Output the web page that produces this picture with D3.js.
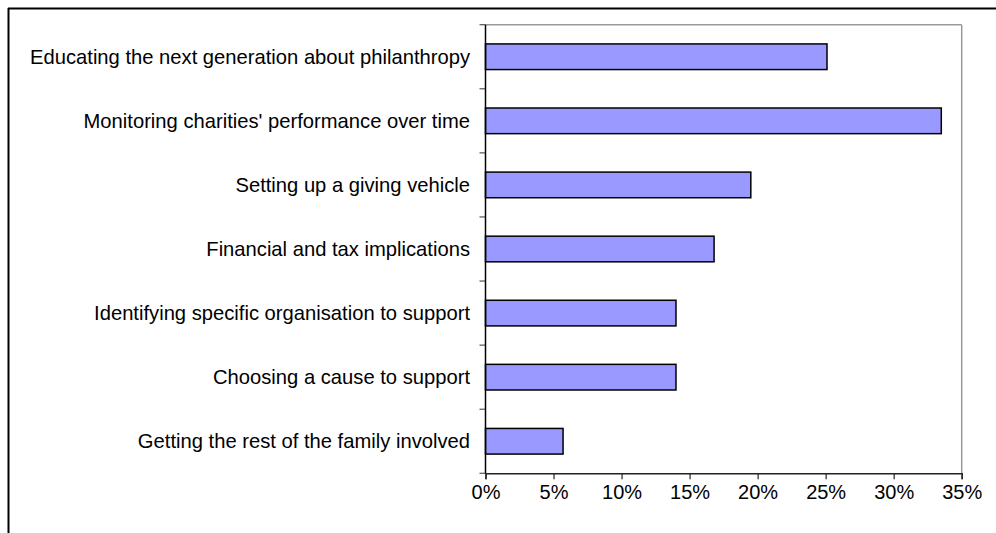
<!DOCTYPE html>
<html>
<head>
<meta charset="utf-8">
<script src="https://cdn.jsdelivr.net/npm/d3@7"></script>
<style>
  html, body { margin: 0; padding: 0; background: #fff; }
  svg { display: block; }
  text { font-family: "Liberation Sans", Arial, sans-serif; fill: #000; }
</style>
</head>
<body>
<svg id="chart" width="996" height="533"></svg>
<script>
const categories = [
  "Educating the next generation about philanthropy",
  "Monitoring charities' performance over time",
  "Setting up a giving vehicle",
  "Financial and tax implications",
  "Identifying specific organisation to support",
  "Choosing a cause to support",
  "Getting the rest of the family involved"
];
const values = [25.1, 33.5, 19.5, 16.8, 14.0, 14.0, 5.7];
const xTicks = [0, 5, 10, 15, 20, 25, 30, 35];

const svg = d3.select("#chart");
const plot = { left: 485.5, right: 961.7, top: 24.7, bottom: 473.3 };

// outer frame (cropped, only top and left visible)
svg.append("line").attr("x1", 8).attr("x2", 996).attr("y1", 8.5).attr("y2", 8.5)
  .attr("stroke", "#000").attr("stroke-width", 2);
svg.append("line").attr("x1", 8.5).attr("x2", 8.5).attr("y1", 8).attr("y2", 533)
  .attr("stroke", "#000").attr("stroke-width", 2);

const x = d3.scaleLinear().domain([0, 35]).range([plot.left, plot.right]);
const y = d3.scaleBand().domain(categories).range([plot.top, plot.bottom]).paddingInner(0.6).paddingOuter(0.3);
const yb = d3.scaleBand().domain(categories).range([plot.top, plot.bottom]);

// plot area border (gray top & right)
svg.append("line").attr("x1", plot.left).attr("x2", plot.right).attr("y1", plot.top).attr("y2", plot.top)
  .attr("stroke", "#9a9a9a").attr("stroke-width", 1.5);
svg.append("line").attr("x1", plot.right).attr("x2", plot.right).attr("y1", plot.top).attr("y2", plot.bottom)
  .attr("stroke", "#9a9a9a").attr("stroke-width", 1.5);

// bars
svg.append("g").selectAll("rect").data(categories).join("rect")
  .attr("x", plot.left)
  .attr("y", d => y(d))
  .attr("width", (d, i) => x(values[i]) - x(0))
  .attr("height", y.bandwidth())
  .attr("fill", "#9999ff")
  .attr("stroke", "#000")
  .attr("stroke-width", 1.5);

// y axis line and ticks at band boundaries
const bounds = categories.map(c => yb(c)).concat([plot.bottom]);
svg.append("g").selectAll("line").data(bounds).join("line")
  .attr("x1", plot.left - 6).attr("x2", plot.left)
  .attr("y1", d => d).attr("y2", d => d)
  .attr("stroke", "#555").attr("stroke-width", 1.2);
svg.append("line").attr("x1", plot.left).attr("x2", plot.left).attr("y1", plot.top).attr("y2", plot.bottom)
  .attr("stroke", "#000").attr("stroke-width", 1.5);

// category labels
svg.append("g").selectAll("text").data(categories).join("text")
  .attr("x", 470)
  .attr("y", d => yb(d) + yb.bandwidth() / 2)
  .attr("text-anchor", "end")
  .attr("dominant-baseline", "central")
  .attr("font-size", 20.2)
  .text(d => d);

// x axis
const xAxis = d3.axisBottom(x).tickValues(xTicks).tickFormat(d => d + "%").tickSize(6).tickPadding(6);
const gx = svg.append("g").attr("transform", `translate(0,${plot.bottom})`).call(xAxis);
gx.select(".domain").attr("stroke", "#222").attr("stroke-width", 1.5);
gx.selectAll(".tick line").attr("stroke", "#222").attr("stroke-width", 1.2);
gx.selectAll(".tick text").attr("font-size", 20).attr("font-family", "Liberation Sans, Arial, sans-serif").attr("fill", "#000");
</script>
</body>
</html>
